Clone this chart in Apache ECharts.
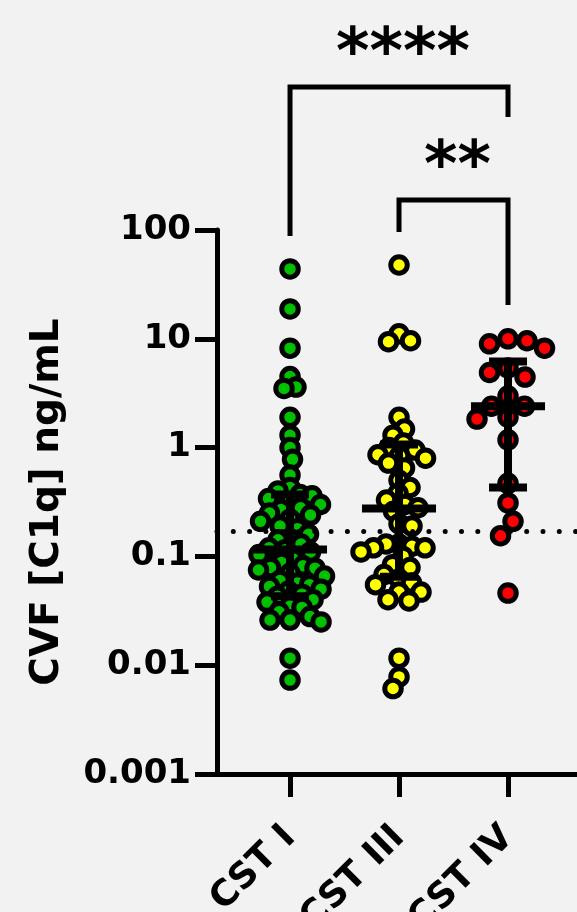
<!DOCTYPE html>
<html><head><meta charset="utf-8">
<script src="https://cdn.jsdelivr.net/npm/echarts@6/dist/echarts.min.js"></script>
<style>html,body{margin:0;padding:0;background:#f2f2f2}#c{width:577px;height:912px}</style>
</head><body><div id="c"></div>
<script>
// ---- data ----
const categories = ['CST I', 'CST III', 'CST IV'];
const cstI = [43.9, 18.8, 8.2, 4.5, 3.6, 3.5, 1.9, 1.3, 1.0, 0.78, 0.56, 0.43, 0.4, 0.37, 0.36, 0.34, 0.32, 0.3, 0.28, 0.27, 0.25, 0.24, 0.22, 0.21, 0.19, 0.18, 0.16, 0.145, 0.142, 0.13, 0.12, 0.115, 0.11, 0.104, 0.095, 0.088, 0.082, 0.079, 0.078, 0.075, 0.07, 0.066, 0.06, 0.057, 0.055, 0.053, 0.05, 0.048, 0.045, 0.043, 0.04, 0.038, 0.035, 0.034, 0.031, 0.028, 0.026, 0.026, 0.025, 0.0116, 0.0073];
const cstIII = [47.7, 11.1, 9.6, 9.4, 1.9, 1.48, 1.3, 1.1, 1.0, 0.95, 0.86, 0.84, 0.8, 0.72, 0.65, 0.5, 0.43, 0.38, 0.33, 0.3, 0.28, 0.26, 0.2, 0.19, 0.13, 0.13, 0.124, 0.12, 0.12, 0.11, 0.1, 0.084, 0.079, 0.068, 0.062, 0.057, 0.055, 0.047, 0.047, 0.04, 0.039, 0.0116, 0.0078, 0.0061];
const cstIV = [10, 9.6, 9.0, 8.2, 5.4, 4.9, 4.45, 2.98, 2.4, 2.4, 1.9, 1.83, 1.18, 0.47, 0.31, 0.21, 0.155, 0.046];
const medians = [0.116, 0.276, 2.4];
const q1 = [0.043, 0.065, 0.43];
const q3 = [0.37, 1.07, 6.2];
const yTickLabels = ['0.001', '0.01', '0.1', '1', '10', '100'];
const cutoff = 0.166;
// significance brackets: [from category, to category]
const sigPairs = [[0, 2], [1, 2]];
const sigLabels = ['****', '**'];
const sigTop = [2060, 189];
const sigLeftEnd = [88, 96];
const sigRightEnd = [1093, 20.5];

// ---- chart ----
const groups = [cstI, cstIII, cstIV];
const colors = ['#00c000', '#ffff00', '#ff0000'];
const swarmDist = [12, 13, 19];
const FONT = '"DejaVu Sans", sans-serif';
const chart = echarts.init(document.getElementById('c'), null, { renderer: 'canvas' });

function scatterSeries(offsets) {
  return groups.map((vals, g) => ({
    type: 'scatter',
    z: 2,
    symbol: 'circle',
    symbolSize: 16.5,
    itemStyle: { color: colors[g], borderColor: '#000', borderWidth: 5, opacity: 1 },
    data: vals.map((v, i) => [g + 1 + (offsets ? offsets[g][i] : 0), v]),
    markLine: g === 0 ? {
      silent: true, symbol: 'none', animation: false,
      label: { show: false },
      lineStyle: { color: '#000', width: 5, type: [0, 16.3], cap: 'round' },
      data: [{ yAxis: cutoff }]
    } : undefined
  }));
}

function buildOption(offsets) {
  return {
    animation: false,
    backgroundColor: '#f2f2f2',
    grid: { left: 217, right: 0, top: 230, bottom: 138, containLabel: false, outerBoundsMode: 'none' },
    xAxis: {
      type: 'value', min: 0.33, max: 3.633,
      axisLine: { show: true, onZero: false, lineStyle: { color: '#000', width: 5 } },
      axisTick: { show: true, customValues: [1, 2, 3], length: 23, lineStyle: { color: '#000', width: 5 } },
      axisLabel: {
        customValues: [1, 2, 3],
        formatter: v => categories[Math.round(v) - 1],
        rotate: 45, margin: 58,
        fontFamily: FONT, fontWeight: 'bold', fontSize: 36, color: '#000'
      },
      splitLine: { show: false }
    },
    yAxis: {
      type: 'log', logBase: 10, min: 0.001, max: 100,
      axisLine: { show: true, onZero: false, lineStyle: { color: '#000', width: 5 } },
      axisTick: { show: true, length: 22, lineStyle: { color: '#000', width: 5 } },
      minorTick: { show: false },
      splitLine: { show: false },
      axisLabel: {
        formatter: v => yTickLabels[Math.round(Math.log10(v)) + 3],
        margin: 26, fontFamily: FONT, fontWeight: 'bold', fontSize: 34, color: '#000'
      },
      name: 'CVF [C1q] ng/mL', nameLocation: 'middle', nameGap: 150,
      nameTextStyle: { fontFamily: FONT, fontWeight: 'bold', fontSize: 39, color: '#000' }
    },
    series: scatterSeries(offsets).concat([
      {
        type: 'custom', z: 5, clip: false,
        data: categories.map((c, g) => [g + 1, medians[g], q1[g], q3[g]]),
        renderItem: (params, api) => {
          const x = api.value(0);
          const pm = api.coord([x, api.value(1)]);
          const p1 = api.coord([x, api.value(2)]);
          const p3 = api.coord([x, api.value(3)]);
          const st = { stroke: '#000', lineWidth: 8 };
          return {
            type: 'group', children: [
              { type: 'line', shape: { x1: p1[0], y1: p1[1], x2: p3[0], y2: p3[1] }, style: st },
              { type: 'line', shape: { x1: p1[0] - 19, y1: p1[1], x2: p1[0] + 19, y2: p1[1] }, style: st },
              { type: 'line', shape: { x1: p3[0] - 19, y1: p3[1], x2: p3[0] + 19, y2: p3[1] }, style: st },
              { type: 'line', shape: { x1: pm[0] - 37, y1: pm[1], x2: pm[0] + 37, y2: pm[1] }, style: st }
            ]
          };
        }
      },
      {
        type: 'custom', z: 6, clip: false,
        data: sigPairs.map((p, i) => [p[0] + 1, p[1] + 1, sigTop[i], sigLeftEnd[i], sigRightEnd[i], i]),
        renderItem: (params, api) => {
          const xa = api.value(0), xb = api.value(1);
          const top = api.value(2);
          const a0 = api.coord([xa, api.value(3)]);
          const a1 = api.coord([xa, top]);
          const b1 = api.coord([xb, top]);
          const b0 = api.coord([xb, api.value(4)]);
          const st = { stroke: '#000', lineWidth: 5, fill: null, lineJoin: 'miter' };
          return {
            type: 'group', children: [
              { type: 'polyline', shape: { points: [a0, a1, b1, b0] }, style: st },
              { type: 'text', x: (a1[0] + b1[0]) / 2 + 4, y: a1[1] - 31,
                style: { text: sigLabels[api.value(5)], fill: '#000', font: 'bold 64px ' + FONT,
                         textAlign: 'center', textVerticalAlign: 'middle' } }
            ]
          };
        }
      }
    ])
  };
}

chart.setOption(buildOption(null));

function swarm(values, g, minDist) {
  const ys = values.map(v => chart.convertToPixel({ gridIndex: 0 }, [g + 1, v])[1]);
  const order = values.map((v, i) => i).sort((a, b) => ys[a] - ys[b]);
  const dx = new Array(values.length);
  const placed = [];
  let flip = 1;
  for (const i of order) {
    let found = 0;
    for (let k = 0; k < 400; k++) {
      const c = k * 0.5;
      const cands = k === 0 ? [0] : [flip * c, -flip * c];
      let ok = null;
      for (const cx of cands) {
        if (placed.every(p => (p.x - cx) ** 2 + (p.y - ys[i]) ** 2 >= minDist * minDist)) { ok = cx; break; }
      }
      if (ok !== null) { found = ok; break; }
    }
    if (found !== 0) flip = -flip;
    dx[i] = found;
    placed.push({ x: found, y: ys[i] });
  }
  return dx;
}

const px1 = chart.convertToPixel({ gridIndex: 0 }, [1, 1])[0];
const px2 = chart.convertToPixel({ gridIndex: 0 }, [2, 1])[0];
const pxPerUnit = px2 - px1;
const offsets = groups.map((vals, g) => swarm(vals, g, swarmDist[g]).map(d => d / pxPerUnit));
chart.setOption(buildOption(offsets), true);
</script>
</body></html>
